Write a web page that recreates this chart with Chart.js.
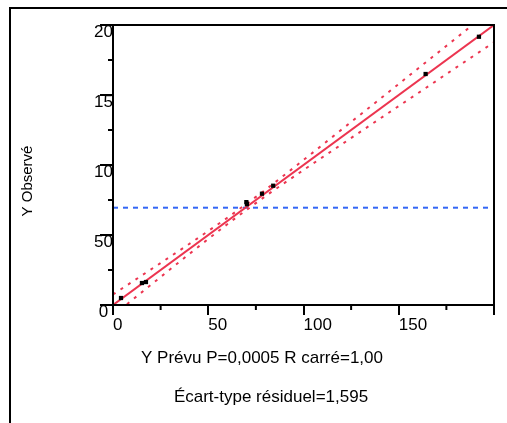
<!DOCTYPE html>
<html>
<head>
<meta charset="utf-8">
<script src="https://cdn.jsdelivr.net/npm/chart.js@4.4.0/dist/chart.umd.min.js"></script>
<style>
html, body { margin: 0; padding: 0; background: #fff; }
canvas { display: block; }
</style>
</head>
<body>
<canvas id="graphique" width="507" height="423"></canvas>
<script>
// points (x = Y prévu, y = Y observé)
var prevu = [4.2, 15.2, 17.3, 70.0, 70.3, 78.2, 84.1, 164.1, 192.1];
var observe = [5.0, 15.7, 16.4, 73.5, 72.0, 79.5, 85.2, 165.0, 191.6];

// droite d'ajustement
var ligneX = [0, 200];
var ligneY = [0, 200];

// bandes de confiance
var bandeX = [0, 20, 40, 60, 70, 80, 100, 120, 140, 160, 180, 200];
var bandeHaut = [7.5, 25.5, 43.6, 62.3, 72.2, 82.3, 103.6, 125.3, 147.0, 168.8, 190.5, 212.3];
var bandeBas = [-7.5, 14.5, 36.4, 57.7, 67.8, 77.7, 96.4, 114.7, 133.0, 151.2, 169.5, 187.7];

// moyenne de Y
var moyenneY = 69.5;

var xTicks = [0, 50, 100, 150, 200];
var xTickLabels = ['0', '50', '100', '150', ''];
var xMinor = [25, 75, 125, 175];
var yTicks = [0, 50, 100, 150, 200];
var yTickLabels = ['0', '50', '10', '15', '20'];
var yMinor = [25, 75, 125, 175];

var titreY = 'Y Observé';
var titreX = 'Y Prévu P=0,0005 R carré=1,00';
var sousTitreX = 'Écart-type résiduel=1,595';

var rouge = '#ec3550';
var police = '"Liberation Sans", Arial, sans-serif';

var cadre = {
    id: 'cadre',
    afterDraw: (chart) => {
        const ctx = chart.ctx;
        const a = chart.chartArea;
        const sx = chart.scales.x;
        const sy = chart.scales.y;
        ctx.save();
        ctx.strokeStyle = '#000';
        ctx.lineWidth = 2;
        ctx.strokeRect(a.left, a.top, a.right - a.left, a.bottom - a.top);

        // petites graduations
        ctx.beginPath();
        xMinor.forEach((v) => {
            const p = sx.getPixelForValue(v);
            ctx.moveTo(p, a.bottom);
            ctx.lineTo(p, a.bottom + 5);
        });
        yMinor.forEach((v) => {
            const p = sy.getPixelForValue(v);
            ctx.moveTo(a.left - 5, p);
            ctx.lineTo(a.left, p);
        });
        ctx.stroke();

        // cadre extérieur
        ctx.beginPath();
        ctx.moveTo(10, chart.height);
        ctx.lineTo(10, 8);
        ctx.lineTo(chart.width, 8);
        ctx.stroke();

        // titres
        ctx.fillStyle = '#000';
        ctx.textAlign = 'center';
        ctx.textBaseline = 'middle';
        ctx.font = '17px ' + police;
        ctx.fillText(titreX, 262, 358);
        ctx.fillText(sousTitreX, 271, 397);
        ctx.translate(28, 181);
        ctx.rotate(-Math.PI / 2);
        ctx.font = '15px ' + police;
        ctx.fillText(titreY, 0, 0);
        ctx.restore();
    }
};

var points = prevu.map((x, i) => ({ x: x, y: observe[i] }));
var ligne = ligneX.map((x, i) => ({ x: x, y: ligneY[i] }));
var haut = bandeX.map((x, i) => ({ x: x, y: bandeHaut[i] }));
var bas = bandeX.map((x, i) => ({ x: x, y: bandeBas[i] }));
var moyenne = [{ x: xTicks[0], y: moyenneY }, { x: xTicks[xTicks.length - 1], y: moyenneY }];

const ctx = document.getElementById('graphique');
new Chart(ctx, {
    type: 'scatter',
    data: {
        datasets: [{
            data: points,
            pointStyle: 'rect',
            pointRadius: 3,
            backgroundColor: '#000',
            borderColor: '#000',
            borderWidth: 0
        }, {
            data: ligne,
            showLine: true,
            pointRadius: 0,
            borderColor: rouge,
            borderWidth: 2
        }, {
            data: haut,
            showLine: true,
            pointRadius: 0,
            borderColor: rouge,
            borderWidth: 2,
            borderDash: [3, 6],
            cubicInterpolationMode: 'monotone'
        }, {
            data: bas,
            showLine: true,
            pointRadius: 0,
            borderColor: rouge,
            borderWidth: 2,
            borderDash: [3, 6],
            cubicInterpolationMode: 'monotone'
        }, {
            data: moyenne,
            showLine: true,
            pointRadius: 0,
            borderColor: '#3366f5',
            borderWidth: 2,
            borderDash: [5, 5]
        }]
    },
    options: {
        responsive: false,
        animation: false,
        layout: { padding: { left: 0, top: 25, right: 13, bottom: 0 } },
        plugins: { legend: { display: false }, tooltip: { enabled: false } },
        scales: {
            x: {
                min: 0,
                max: 200,
                afterBuildTicks: (s) => { s.ticks = xTicks.map((v) => ({ value: v })); },
                afterFit: (s) => { s.height = 118; },
                grid: { drawOnChartArea: false, tickLength: 10, lineWidth: 2, color: '#000' },
                border: { display: true, color: '#000', width: 2 },
                ticks: {
                    autoSkip: false,
                    maxRotation: 0,
                    align: 'start',
                    padding: 0,
                    color: '#000',
                    font: { family: police, size: 17 },
                    callback: (v, i) => xTickLabels[i]
                }
            },
            y: {
                min: 0,
                max: 200,
                afterBuildTicks: (s) => { s.ticks = yTicks.map((v) => ({ value: v })); },
                afterFit: (s) => { s.width = 113; },
                grid: { drawOnChartArea: false, tickLength: 13, lineWidth: 2, color: '#000' },
                border: { display: true, color: '#000', width: 2 },
                ticks: {
                    crossAlign: 'center',
                    padding: -13,
                    labelOffset: 7,
                    color: '#000',
                    font: { family: police, size: 17 },
                    callback: (v, i) => yTickLabels[i]
                }
            }
        }
    },
    plugins: [cadre]
});
</script>
</body>
</html>
